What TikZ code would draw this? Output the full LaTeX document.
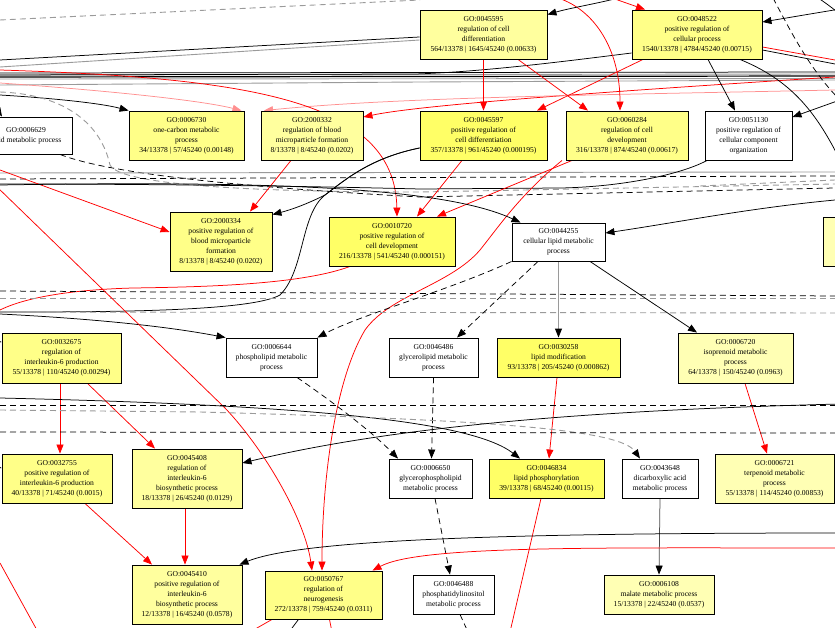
\documentclass[tikz,border=0pt]{standalone}
\usepackage{fontspec}
\setmainfont{Liberation Serif}
\usetikzlibrary{arrows.meta,calc}
\pgfdeclarelayer{bg}
\pgfsetlayers{bg,main}
\definecolor{yA}{HTML}{FFFF66}
\definecolor{yB}{HTML}{FFFF88}
\definecolor{yC}{HTML}{FFFF9E}
\definecolor{yD}{HTML}{FFFFB4}
\definecolor{pinkr}{HTML}{FF9090}
\definecolor{gr}{HTML}{9A9A9A}
\begin{document}
\begin{tikzpicture}[x=1pt,y=-1pt,
  box/.style={draw,line width=0.9pt,align=center,inner sep=0pt,font=\fontsize{7.6}{10}\selectfont},
  tip/.style={-{Triangle[length=9pt,width=7pt]}},
  ktip/.style={-{Triangle[length=9pt,width=7pt,color=black]}},
  bl/.style={draw=black,line width=0.75pt},
  rd/.style={draw=red,line width=0.75pt},
  pk/.style={draw=pinkr,line width=0.75pt},
  gy/.style={draw=gr,line width=0.9pt},
  ds/.style={dash pattern=on 6pt off 4pt}]
\useasboundingbox (0,0) rectangle (835,628);
\clip (0,0) rectangle (835,628);
% ---------- nodes ----------
\node[box,fill=white,minimum width=93pt,minimum height=37pt] (n6629) at (26,135.5) {GO:0006629\\lipid metabolic process};
\node[box,fill=yB,minimum width=115pt,minimum height=49pt] (n6730) at (186.5,135.5) {GO:0006730\\one-carbon metabolic\\process\\34/13378 | 57/45240 (0.00148)};
\node[box,fill=yC,minimum width=102pt,minimum height=49pt] (n2000332) at (312,135.5) {GO:2000332\\regulation of blood\\microparticle formation\\8/13378 | 8/45240 (0.0202)};
\node[box,fill=yC,minimum width=127pt,minimum height=49pt] (n45595) at (483.5,34.5) {GO:0045595\\regulation of cell\\differentiation\\564/13378 | 1645/45240 (0.00633)};
\node[box,fill=yB,minimum width=130pt,minimum height=49pt] (n48522) at (697,34.5) {GO:0048522\\positive regulation of\\cellular process\\1540/13378 | 4784/45240 (0.00715)};
\node[box,fill=yA,minimum width=127pt,minimum height=49pt] (n45597) at (483.5,135.5) {GO:0045597\\positive regulation of\\cell differentiation\\357/13378 | 961/45240 (0.000195)};
\node[box,fill=yB,minimum width=122pt,minimum height=49pt] (n60284) at (627,135.5) {GO:0060284\\regulation of cell\\development\\316/13378 | 874/45240 (0.00617)};
\node[box,fill=white,minimum width=87pt,minimum height=49pt] (n51130) at (748.5,135.5) {GO:0051130\\positive regulation of\\cellular component\\organization};
\node[box,fill=yB,minimum width=102pt,minimum height=59pt] (n2000334) at (221,241.5) {GO:2000334\\positive regulation of\\blood microparticle\\formation\\8/13378 | 8/45240 (0.0202)};
\node[box,fill=yA,minimum width=126pt,minimum height=49pt] (n10720) at (392,241.5) {GO:0010720\\positive regulation of\\cell development\\216/13378 | 541/45240 (0.000151)};
\node[box,fill=white,minimum width=93pt,minimum height=38pt] (n44255) at (558.5,242) {GO:0044255\\cellular lipid metabolic\\process};
\node[box,fill=yD,minimum width=80pt,minimum height=49pt] (nright) at (863,241.5) {};
\node[box,fill=yB,minimum width=119pt,minimum height=50pt] (n32675) at (61.5,358) {GO:0032675\\regulation of\\interleukin-6 production\\55/13378 | 110/45240 (0.00294)};
\node[box,fill=white,minimum width=91pt,minimum height=39pt] (n6644) at (271.5,357.5) {GO:0006644\\phospholipid metabolic\\process};
\node[box,fill=white,minimum width=89pt,minimum height=39pt] (n46486) at (433.5,357.5) {GO:0046486\\glycerolipid metabolic\\process};
\node[box,fill=yA,minimum width=123pt,minimum height=39pt] (n30258) at (558.5,357.5) {GO:0030258\\lipid modification\\93/13378 | 205/45240 (0.000862)};
\node[box,fill=yD,minimum width=115pt,minimum height=50pt] (n6720) at (735.5,358) {GO:0006720\\isoprenoid metabolic\\process\\64/13378 | 150/45240 (0.0963)};
\node[box,fill=yB,minimum width=110pt,minimum height=49pt] (n32755) at (57,478.5) {GO:0032755\\positive regulation of\\interleukin-6 production\\40/13378 | 71/45240 (0.0015)};
\node[box,fill=yC,minimum width=110pt,minimum height=59pt] (n45408) at (187,478.5) {GO:0045408\\regulation of\\interleukin-6\\biosynthetic process\\18/13378 | 26/45240 (0.0129)};
\node[box,fill=white,minimum width=83pt,minimum height=39pt] (n6650) at (430.5,478.5) {GO:0006650\\glycerophospholipid\\metabolic process};
\node[box,fill=yA,minimum width=115pt,minimum height=39pt] (n46834) at (546.5,478.5) {GO:0046834\\lipid phosphorylation\\39/13378 | 68/45240 (0.00115)};
\node[box,fill=white,minimum width=76pt,minimum height=39pt] (n43648) at (660,478.5) {GO:0043648\\dicarboxylic acid\\metabolic process};
\node[box,fill=yD,minimum width=119pt,minimum height=49pt] (n6721) at (774.5,478.5) {GO:0006721\\terpenoid metabolic\\process\\55/13378 | 114/45240 (0.00853)};
\node[box,fill=yC,minimum width=110pt,minimum height=59pt] (n45410) at (187,594.5) {GO:0045410\\positive regulation of\\interleukin-6\\biosynthetic process\\12/13378 | 16/45240 (0.0578)};
\node[box,fill=yB,minimum width=117pt,minimum height=48pt] (n50767) at (323.5,595) {GO:0050767\\regulation of\\neurogenesis\\272/13378 | 759/45240 (0.0311)};
\node[box,fill=white,minimum width=81pt,minimum height=39pt] (n46488) at (453.5,594.5) {GO:0046488\\phosphatidylinositol\\metabolic process};
\node[box,fill=yD,minimum width=110pt,minimum height=39pt] (n6108) at (659,594.5) {GO:0006108\\malate metabolic process\\15/13378 | 22/45240 (0.0537)};
% ---------- edges ----------
\begin{pgfonlayer}{bg}
\fill[white] (0,0) rectangle (835,628);
% top band
\draw[gy,ds] (0,20) -- (420,0);
\draw[bl] ([yshift=-2.5pt]n45595.west) -- (0,60);
\draw[gy] ([yshift=-5.5pt]n45595.west) -- (0,67);
\draw[bl] (0,73) -- (835,72);
\draw[gy] (0,75) -- (835,74);
\draw[bl,line width=1.2pt] (0,77) -- (835,76);
\draw[gy] (0,79) -- (835,78.5);
\draw[bl] ([yshift=-18.5pt]n48522.west) .. controls (560,62) and (480,72) .. (415,74) -- (0,75);
\draw[rd] ([yshift=-12.5pt]n48522.east) -- (835,60);
\draw[bl] ([yshift=-15.5pt]n48522.east) -- (835,64);
\draw[gy] (0,85) -- (420,82) -- (835,80);
\draw[rd,tip] (835,77) .. controls (600,92) and (420,105) .. ([yshift=18.5pt]n2000332.east);
\draw[pk,tip] (835,90) .. controls (600,95) and (400,97) .. ([xshift=-48pt]n2000332.north);
\draw[pk,tip] (0,83) .. controls (100,90) and (200,100) .. ([xshift=55pt]n6730.north);
\draw[rd,tip] (0,70) .. controls (250,78) and (395,100) .. ([xshift=5pt]n10720.north);
\draw[bl,tip] (0,95) .. controls (50,98) and (100,103) .. (n6730.north west);
\draw[bl,tip] (-6,104) -- ([xshift=-24pt]n6629.north);
\draw[gy,ds] (0,92) .. controls (60,94) and (100,120) .. (110,165) .. controls (120,185) and (250,192) .. (420,192) -- (835,184);
\draw[bl,ds] ([xshift=34pt]n6629.south) .. controls (100,170) and (200,185) .. (420,197) -- (835,188);
\draw[gy] (0,173) -- (835,172);
\draw[bl,ds] (0,179) -- (835,176);
% upper right
\draw[rd,tip] (558,-2) .. controls (595,10) and (620,50) .. ([xshift=-7pt]n60284.north);
\draw[rd,tip] (612,-2) -- ([xshift=-52pt]n48522.north);
\draw[bl,tip] (618,-2) .. controls (600,3) and (570,8) .. ([yshift=-5pt]n45595.north east);
\draw[bl,tip] (840,9) -- ([yshift=12.5pt]n48522.east);
\draw[bl,tip] (840,100) -- ([yshift=18.5pt]n51130.east);
\draw[bl,ds] (773,-2) .. controls (790,30) and (810,70) .. (840,100);
\draw[bl] (818,-2) .. controls (826,3) and (832,8) .. (840,14);
\draw[bl] ([xshift=43pt]n48522.south) .. controls (790,80) and (815,110) .. (840,160);
\draw[rd,tip] (n45595.south) -- (n45597.north);
\draw[rd,tip] ([xshift=34.5pt]n45595.south) -- ([xshift=-39pt]n60284.north);
\draw[rd,tip] ([xshift=-54pt]n48522.south) -- ([xshift=53.5pt]n45597.north);
\draw[bl,tip] ([xshift=11pt]n48522.south) -- ([xshift=-13.5pt]n51130.north);
\draw[bl] ([xshift=-41.5pt]n51130.south) .. controls (680,175) and (620,187) .. (560,188) -- (420,189) .. controls (300,186) and (150,184) .. (0,184);
% middle
\draw[rd,tip] ([xshift=-21pt]n2000332.south) -- ([xshift=29pt]n2000334.north);
\draw[rd,tip] (0,170) -- ([yshift=9.5pt]n2000334.west);
\draw[bl,tip] ([yshift=-12.5pt]n45597.west) .. controls (370,158) and (345,180) .. (325,195) .. controls (305,205) and (290,210) .. ([yshift=-3pt]n2000334.north east);
\draw[bl] ([yshift=-12.5pt]n45597.west) .. controls (370,158) and (345,180) .. (325,195) .. controls (300,215) and (305,270) .. (280,295) .. controls (250,312) and (100,312) .. (0,312);
\draw[rd,tip] ([xshift=-21.5pt]n45597.south) -- ([xshift=25pt]n10720.north);
\draw[rd,tip] ([xshift=-55pt]n60284.south) -- ([xshift=45pt]n10720.north);
\draw[rd,tip] ([xshift=-65pt]n60284.south) .. controls (520,195) and (500,225) .. (480,250) .. controls (450,285) and (390,295) .. (365,330) .. controls (335,380) and (322,480) .. ([xshift=-1.5pt]n50767.north);
\draw[bl,tip] (0,185) .. controls (300,180) and (450,190) .. ([xshift=-38pt]n44255.north);
\draw[bl,tip] (835,200) .. controls (750,208) and (680,222) .. ([yshift=9pt]n44255.east);
\draw[gy,ds] (700,186) -- (835,180);
\draw[rd] ([xshift=-42pt]n10720.south) .. controls (300,285) and (200,287) .. (133,288) .. controls (60,290) and (20,300) .. (0,310);
\draw[bl,ds] (0,291) -- (835,296);
\draw[gy,ds] (0,298) -- (835,298);
\draw[gy,ds] (0,312) -- (835,313);
\draw[bl,tip] (0,314) .. controls (80,318) and (160,325) .. (n6644.north west);
\draw[bl,ds,tip] (n44255.south west) .. controls (450,290) and (360,315) .. (n6644.north east);
\draw[bl,ds,tip] ([xshift=-20.5pt]n44255.south) -- ([xshift=23.5pt]n46486.north);
\draw[gy,ktip] (n44255.south) -- (n30258.north);
\draw[bl,tip] ([xshift=31.5pt]n44255.south) -- ([xshift=-38.5pt]n6720.north);
\draw[rd,tip] (-5,185) -- (225,408) .. controls (265,450) and (305,520) .. ([xshift=-11.5pt]n50767.north);
% lower
\draw[bl,tip] (-8,341) -- ([yshift=16pt]n32675.west);
\draw[bl,tip] (-8,466) -- ([yshift=10.5pt]n32755.west);
\draw[rd,tip] ([xshift=-1.5pt]n32675.south) -- ([xshift=3pt]n32755.north);
\draw[rd,tip] ([xshift=26pt]n32675.south) -- ([xshift=-32pt]n45408.north);
\draw[rd,tip] ([xshift=28pt]n32755.south) -- ([xshift=-35pt]n45410.north);
\draw[rd,tip] ([xshift=-2pt]n45408.south) -- ([xshift=-2pt]n45410.north);
\draw[rd,tip] ([xshift=-1.5pt]n30258.south) -- ([xshift=2.5pt]n46834.north);
\draw[rd,tip] ([xshift=9.5pt]n6720.south) -- ([xshift=-7.5pt]n6721.north);
\draw[draw=black!70,line width=0.75pt,ktip] (n43648.south) -- (n6108.north);
\draw[bl,ds,tip] (n46486.south) -- ([xshift=1pt]n6650.north);
\draw[bl,ds,tip] ([xshift=4.5pt]n6650.south) -- ([xshift=-3.5pt]n46488.north);
\draw[bl,ds] ([xshift=6.5pt]n46488.south) -- (468,632);
\draw[rd] ([xshift=-5.5pt]n46834.south) -- (510,632);
\draw[bl,ds,tip] ([xshift=25.5pt]n6644.south) .. controls (330,400) and (370,430) .. ([xshift=-32.5pt]n6650.north);
\draw[bl,tip] (0,398) .. controls (300,405) and (470,420) .. ([xshift=-26.5pt]n46834.north);
\draw[gy,ds,ktip] (0,410) -- (200,412) .. controls (500,420) and (620,430) .. ([xshift=-20pt]n43648.north);
\draw[bl,tip] (840,404) .. controls (600,410) and (400,425) .. ([yshift=15.5pt]n45408.east);
\draw[bl,ds] (0,405) -- (835,405);
\draw[bl,ds] (0,432) -- (835,433);
\draw[rd] (0,563) -- (38,632);
\draw[bl,tip] (840,533) .. controls (500,533) and (300,540) .. ([xshift=-3pt]n45410.north east);
\draw[rd,tip] (840,548) .. controls (600,548) and (420,545) .. ([xshift=49pt]n50767.north);
\draw[rd] ([xshift=-51.5pt]n50767.south) -- (250,632);
\draw[bl] ([xshift=-25pt]n50767.south) -- (289,632);
\draw[rd] ([xshift=6pt]n50767.south) -- (332,632);
\end{pgfonlayer}
\end{tikzpicture}
\end{document}
